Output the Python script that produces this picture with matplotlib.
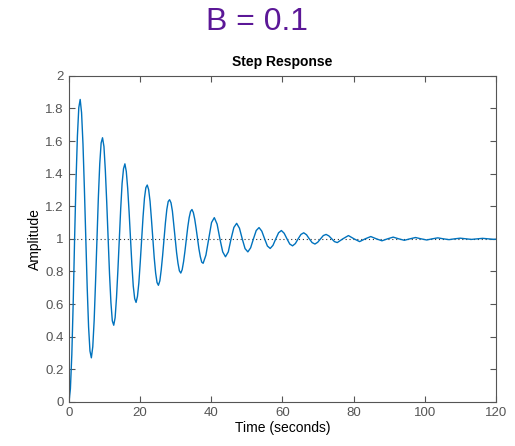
import matplotlib.pyplot as plt

# --- Data (time in s, amplitude) ---
# denser sampling over the first six swings, coarser once they die down
time_s = [
    0.00, 0.39, 0.79, 1.18, 1.57, 1.96, 2.36, 2.75,
    3.14, 3.53, 3.93, 4.32, 4.71, 5.11, 5.50, 5.89,
    6.28, 6.68, 7.07, 7.46, 7.85, 8.25, 8.64, 9.03,
    9.42, 9.82, 10.21, 10.60, 11.00, 11.39, 11.78, 12.17,
    12.57, 12.96, 13.35, 13.74, 14.14, 14.53, 14.92, 15.32,
    15.71, 16.10, 16.49, 16.89, 17.28, 17.67, 18.06, 18.46,
    18.85, 19.24, 19.63, 20.03, 20.42, 20.81, 21.21, 21.60,
    21.99, 22.38, 22.78, 23.17, 23.56, 23.95, 24.35, 24.74,
    25.13, 25.53, 25.92, 26.31, 26.70, 27.10, 27.49, 27.88,
    28.27, 28.67, 29.06, 29.45, 29.85, 30.24, 30.63, 31.02,
    31.42, 31.81, 32.20, 32.59, 32.99, 33.38, 33.77, 34.16,
    34.56, 34.95, 35.34, 35.73, 36.13, 36.52, 36.91, 37.30,
    37.70, 38.48, 39.27, 40.06, 40.84, 41.63, 42.41, 43.20,
    43.98, 44.77, 45.55, 46.34, 47.12, 47.91, 48.69, 49.48,
    50.27, 51.05, 51.84, 52.62, 53.41, 54.19, 54.98, 55.76,
    56.55, 57.33, 58.12, 58.90, 59.69, 60.48, 61.26, 62.05,
    62.83, 63.62, 64.40, 65.19, 65.97, 66.76, 67.54, 68.33,
    69.12, 69.90, 70.69, 71.47, 72.26, 73.04, 73.83, 74.61,
    75.40, 76.97, 78.54, 80.11, 81.68, 83.25, 84.82, 86.39,
    87.96, 89.54, 91.11, 92.68, 94.25, 95.82, 97.39, 98.96,
    100.53, 102.10, 103.67, 105.24, 106.81, 108.38, 109.96, 111.53,
    113.10, 114.67, 116.24, 117.81, 119.38, 120.00,
]
amplitude = [
    0.00, 0.08, 0.29, 0.61, 1.00, 1.347, 1.63, 1.805,
    1.855, 1.774, 1.58, 1.309, 1.00, 0.703, 0.46, 0.312,
    0.27, 0.338, 0.50, 0.736, 1.00, 1.254, 1.46, 1.588,
    1.62, 1.566, 1.42, 1.225, 1.00, 0.783, 0.61, 0.497,
    0.47, 0.516, 0.64, 0.807, 1.00, 1.185, 1.34, 1.430,
    1.46, 1.413, 1.31, 1.165, 1.00, 0.842, 0.71, 0.633,
    0.61, 0.647, 0.73, 0.859, 1.00, 1.135, 1.25, 1.314,
    1.33, 1.302, 1.23, 1.120, 1.00, 0.884, 0.79, 0.732,
    0.715, 0.742, 0.81, 0.897, 1.00, 1.099, 1.18, 1.229,
    1.24, 1.221, 1.17, 1.088, 1.00, 0.915, 0.85, 0.804,
    0.79, 0.811, 0.86, 0.925, 1.00, 1.072, 1.13, 1.168,
    1.18, 1.161, 1.12, 1.064, 1.00, 0.938, 0.89, 0.857,
    0.85, 0.90, 1.00, 1.10, 1.13, 1.09, 1.00, 0.92,
    0.89, 0.92, 1.00, 1.07, 1.095, 1.065, 1.00, 0.94,
    0.92, 0.945, 1.00, 1.051, 1.069, 1.047, 1.00, 0.956,
    0.941, 0.960, 1.00, 1.037, 1.051, 1.034, 1.00, 0.968,
    0.957, 0.971, 1.00, 1.027, 1.037, 1.025, 1.00, 0.977,
    0.968, 0.979, 1.00, 1.020, 1.027, 1.018, 1.00, 0.983,
    0.977, 1.00, 1.020, 1.00, 0.983, 1.00, 1.014, 1.00,
    0.988, 1.00, 1.0105, 1.00, 0.991, 1.00, 1.008, 1.00,
    0.993, 1.00, 1.006, 1.00, 0.995, 1.00, 1.004, 1.00,
    0.9965, 1.00, 1.003, 1.00, 0.997, 0.998,
]
final_value = 1.0
x_ticks = [0, 20, 40, 60, 80, 100, 120]
y_ticks = [0, 0.2, 0.4, 0.6, 0.8, 1, 1.2, 1.4, 1.6, 1.8, 2]

plt.rcParams['font.family'] = ['Liberation Sans', 'DejaVu Sans']

fig = plt.figure(figsize=(5.15, 4.46), dpi=100)
ax = fig.add_axes([0.134, 0.099, 0.829, 0.731])

ax.plot(time_s, amplitude, color='#0072BD', lw=1.0)
ax.axhline(final_value, color='#333333', lw=0.8, ls=(0, (1, 2.5)), zorder=1)

ax.set_xlim(0, 120)
ax.set_ylim(0, 2)
ax.set_xticks(x_ticks)
ax.set_yticks(y_ticks)
ax.set_yticklabels([f"{v:g}" for v in y_ticks])

ax.tick_params(direction='in', top=True, right=True, length=4, width=0.8,
               colors='#555555', labelcolor='#555555', labelsize=9.5, pad=4)
for sp in ax.spines.values():
    sp.set_color('#555555')
    sp.set_linewidth(0.8)

ax.set_xlabel("Time (seconds)", fontsize=10, labelpad=1)
ax.set_ylabel("Amplitude", fontsize=10, labelpad=2)
ax.set_title("Step Response", fontsize=10, fontweight='bold', pad=7)

fig.text(0.5, 0.95, "B = 0.1", ha='center', va='center', fontsize=23, color='#5B1797')

fig.savefig("out.png", dpi=100)
